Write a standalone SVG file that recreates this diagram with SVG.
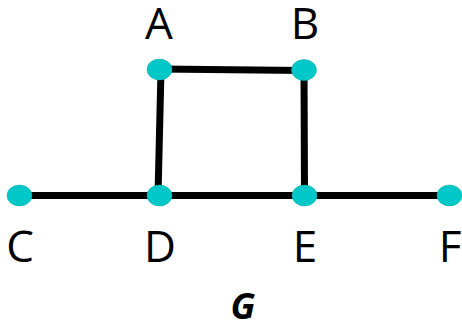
<svg xmlns="http://www.w3.org/2000/svg" width="462" height="328" viewBox="0 0 462 328">
<style>
.e{stroke:#000;stroke-width:7;fill:none}
.n{fill:#00C8C8;stroke:#20A8A8;stroke-width:0.5}
.l{font-family:"Open Sans","Noto Sans",sans-serif;font-size:44px;fill:#000;text-anchor:middle}
.t{font-family:"Open Sans","Noto Sans",sans-serif;font-size:36px;font-weight:bold;font-style:italic;fill:#000;text-anchor:middle}
</style>
<rect width="462" height="328" fill="#fff"/>
<g id="connectors">
<line class="e" x1="160" y1="69" x2="304" y2="70.5"/>
<line class="e" x1="161" y1="70" x2="158" y2="195.5"/>
<line class="e" x1="304" y1="70.5" x2="304.5" y2="195.5"/>
<line class="e" x1="19.5" y1="195.5" x2="449.5" y2="195.5"/>
</g>
<g id="A"><ellipse class="n" cx="159.5" cy="69.5" rx="12.5" ry="10.5"/><text class="l" x="159" y="39">A</text></g>
<g id="B"><ellipse class="n" cx="304" cy="70" rx="12.5" ry="10.5"/><text class="l" x="305" y="39">B</text></g>
<g id="C"><ellipse class="n" cx="19.5" cy="195.5" rx="12.5" ry="10.5"/><text class="l" x="20" y="262">C</text></g>
<g id="D"><ellipse class="n" cx="159.5" cy="195.5" rx="12.5" ry="10.5"/><text class="l" x="160" y="262">D</text></g>
<g id="E"><ellipse class="n" cx="304.5" cy="195.5" rx="12.5" ry="10.5"/><text class="l" x="305" y="262">E</text></g>
<g id="F"><ellipse class="n" cx="449.5" cy="195.5" rx="12.5" ry="10.5"/><text class="l" x="450" y="262">F</text></g>
<text class="t" x="243" y="319">G</text>
</svg>
